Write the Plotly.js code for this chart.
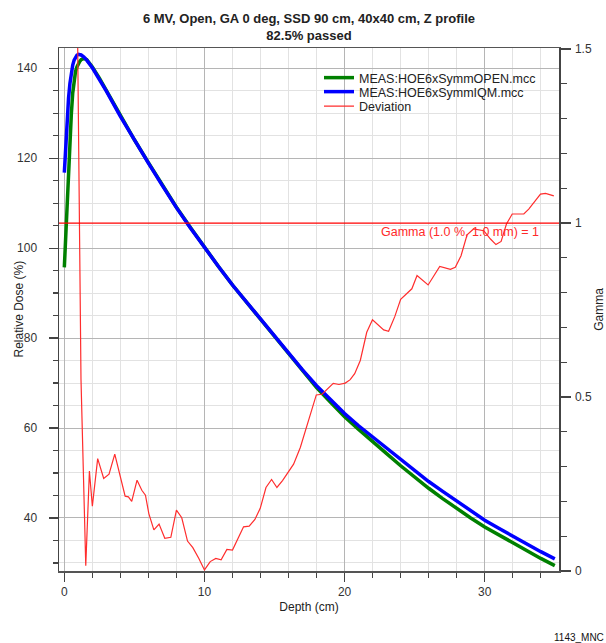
<!DOCTYPE html>
<html>
<head>
<meta charset="utf-8">
<script src="https://cdn.plot.ly/plotly-3.0.1.min.js"></script>
<style>html,body{margin:0;padding:0;background:#fff;}</style>
</head>
<body>
<div id="chart" style="width:606px;height:643px;"></div>
<script>
// Depth (cm) for the two measured depth-dose curves
var depth = [0,0.1,0.2,0.3,0.4,0.5,0.6,0.7,0.8,0.9,1.0,1.1,1.2,1.4,1.6,2.0,2.5,3,4,5,6,7,8,9,10,11,12,13,14,15,16,17,18,19,20,21,22,23,24,25,26,27,28,29,30,31,32,33,34,35];
// MEAS:HOE6xSymmOPEN.mcc (green)
var openDose = [95.7,103.4,110.5,117.0,124.0,129.8,134.5,137.6,139.3,140.3,141.0,141.5,141.9,142.2,141.9,140.3,137.8,135.0,129.4,124.1,119.0,114.0,109.1,104.6,100.2,95.9,91.8,88.0,84.2,80.2,76.4,72.7,69.0,65.7,62.5,59.7,57.1,54.3,51.6,49.0,46.6,44.3,42.1,40.0,38.0,36.2,34.4,32.6,31.0,29.4];
// MEAS:HOE6xSymmIQM.mcc (blue)
var iqmDose = [116.8,123.5,129.0,133.3,136.6,139.0,140.7,141.8,142.5,142.9,143.1,143.1,142.95,142.5,141.8,140.1,137.6,134.9,129.3,124.0,118.9,113.9,109.0,104.5,100.1,95.9,91.8,88.0,84.2,80.3,76.6,72.9,69.4,66.2,63.2,60.5,58.0,55.5,52.9,50.4,48.1,45.9,43.7,41.6,39.5,37.7,35.9,34.2,32.5,30.9];
// Deviation (gamma index)
var devDepth = [0.8,1.19,1.53,1.79,2.0,2.38,2.81,3.19,3.6,3.98,4.34,4.57,4.81,5.19,5.53,5.79,6.03,6.39,6.76,7.17,7.6,8.0,8.38,8.79,9.17,9.6,10.0,10.41,10.81,11.19,11.6,12.0,12.38,12.79,13.19,13.6,13.98,14.39,14.79,15.17,15.57,15.98,16.36,16.84,17.31,17.67,17.98,18.39,18.76,19.19,19.6,20.05,20.4,20.72,21.12,21.58,21.99,22.31,22.79,23.14,23.58,24.0,24.8,25.17,25.96,26.79,27.55,27.9,28.31,28.74,29.2,29.93,30.41,30.8,31.17,31.55,31.96,32.79,33.14,33.98,34.34,34.93];
var devGamma = [2.13,0.55,0.015,0.287,0.186,0.323,0.266,0.278,0.336,0.27,0.215,0.213,0.2,0.261,0.232,0.218,0.165,0.118,0.135,0.094,0.097,0.175,0.153,0.086,0.067,0.036,0.003,0.027,0.036,0.032,0.062,0.06,0.094,0.127,0.129,0.148,0.18,0.24,0.263,0.24,0.26,0.285,0.307,0.355,0.417,0.471,0.506,0.508,0.522,0.539,0.536,0.54,0.55,0.567,0.605,0.686,0.722,0.71,0.693,0.689,0.731,0.781,0.811,0.849,0.822,0.875,0.867,0.873,0.906,0.966,0.983,0.978,0.954,0.938,0.947,0.997,1.026,1.026,1.04,1.083,1.085,1.078];
var gammaLimit = 1;
var titleLines = ['6 MV, Open, GA 0 deg, SSD 90 cm, 40x40 cm, Z profile', '82.5% passed'];
var seriesNames = ['MEAS:HOE6xSymmOPEN.mcc', 'MEAS:HOE6xSymmIQM.mcc', 'Deviation'];
var axisTitles = {x: 'Depth (cm)', y: 'Relative Dose (%)', y2: 'Gamma'};

var FONT = 'Liberation Sans, Arial, sans-serif';

var traces = [
  {x: depth, y: openDose, name: seriesNames[0], type: 'scatter', mode: 'lines',
   line: {color: '#008000', width: 3.5}, yaxis: 'y', legend: 'legend'},
  {x: depth, y: iqmDose, name: seriesNames[1], type: 'scatter', mode: 'lines',
   line: {color: '#0000ff', width: 3.5}, yaxis: 'y', legend: 'legend2'},
  {x: devDepth, y: devGamma, name: seriesNames[2], type: 'scatter', mode: 'lines',
   line: {color: 'rgb(255,45,45)', width: 1.2}, yaxis: 'y2', legend: 'legend3'}
];

function legendAt(yPx) {
  return {
    x: 0.52, xanchor: 'left', y: (571 - yPx) / 523, yanchor: 'middle',
    bgcolor: 'rgba(0,0,0,0)', borderwidth: 0,
    font: {family: FONT, size: 12.5, color: '#222'}
  };
}

var layout = {
  width: 606, height: 643,
  margin: {l: 59, r: 47, t: 48, b: 72},
  paper_bgcolor: '#ffffff', plot_bgcolor: '#ffffff',
  font: {family: FONT, size: 12, color: '#222'},
  showlegend: true,
  title: {
    text: '<b>' + titleLines[0] + '</b><br><b>' + titleLines[1] + '</b>',
    font: {family: FONT, size: 13, color: '#222'},
    xref: 'paper', x: 0.5, xanchor: 'center',
    yref: 'container', y: 1 - 23/643, yanchor: 'top'
  },
  xaxis: {
    range: [-0.38, 35.3], tick0: 0, dtick: 10,
    ticks: 'outside', ticklen: 9, tickcolor: '#444', tickwidth: 1.2,
    showgrid: true, gridcolor: '#b5b5b5', gridwidth: 1, zeroline: false,
    showline: true, linecolor: '#555', linewidth: 1.5, mirror: true,
    tickfont: {size: 12, color: '#333'},
    minor: {tick0: 0, dtick: 2, ticks: 'outside', ticklen: 5, tickcolor: '#444', showgrid: true, gridcolor: '#e2e2e2', gridwidth: 1},
    title: {text: axisTitles.x, font: {size: 12, color: '#222'}, standoff: 4}
  },
  yaxis: {
    range: [28.2, 144.5], tick0: 0, dtick: 20,
    ticks: 'outside', ticklen: 9, tickcolor: '#444', tickwidth: 1.2,
    ticklabelstandoff: 9,
    showgrid: true, gridcolor: '#b5b5b5', gridwidth: 1, zeroline: false,
    showline: true, linecolor: '#444', linewidth: 1.5,
    tickfont: {size: 12, color: '#333'},
    minor: {tick0: 0, dtick: 5, ticks: 'outside', ticklen: 5, tickcolor: '#444', showgrid: true, gridcolor: '#e2e2e2', gridwidth: 1}
  },
  yaxis2: {
    overlaying: 'y', side: 'right',
    range: [0, 1.503], tick0: 0, dtick: 0.5,
    ticks: 'outside', ticklen: 10, tickcolor: '#444', tickwidth: 1.2,
    ticklabelstandoff: 2,
    showgrid: false, zeroline: false,
    showline: true, linecolor: '#444', linewidth: 1.5,
    tickfont: {size: 12, color: '#333'},
    minor: {tick0: 0, dtick: 0.1, ticks: 'outside', ticklen: 6, tickcolor: '#444', showgrid: false},
    title: {text: axisTitles.y2, font: {size: 12, color: '#222'}, standoff: 12}
  },
  legend: legendAt(78),
  legend2: legendAt(92),
  legend3: legendAt(106.5),
  shapes: [
    {type: 'line', xref: 'paper', x0: 0, x1: 1, yref: 'y2', y0: gammaLimit, y1: gammaLimit,
     line: {color: '#ff0000', width: 1.3}}
  ],
  annotations: [
    {xref: 'paper', x: (18 - 59) / 500, xanchor: 'center', yref: 'paper', y: 0.5, yanchor: 'middle',
     text: axisTitles.y, textangle: -90, showarrow: false, font: {family: FONT, size: 12, color: '#222'}},
    {xref: 'paper', x: 0.964, xanchor: 'right', yref: 'y2', y: gammaLimit, yanchor: 'top',
     text: 'Gamma (1.0 %, 1.0 mm) = 1', showarrow: false,
     font: {family: FONT, size: 12.5, color: '#ff2a2a'}},
    {xref: 'paper', x: (552 - 59) / 500, xanchor: 'left', yref: 'paper', y: (571 - 637) / 523, yanchor: 'middle',
     text: '1143_MNC', showarrow: false, font: {family: FONT, size: 10, color: '#111'}}
  ]
};

Plotly.newPlot('chart', traces, layout, {displayModeBar: false, staticPlot: true});
</script>
</body>
</html>
